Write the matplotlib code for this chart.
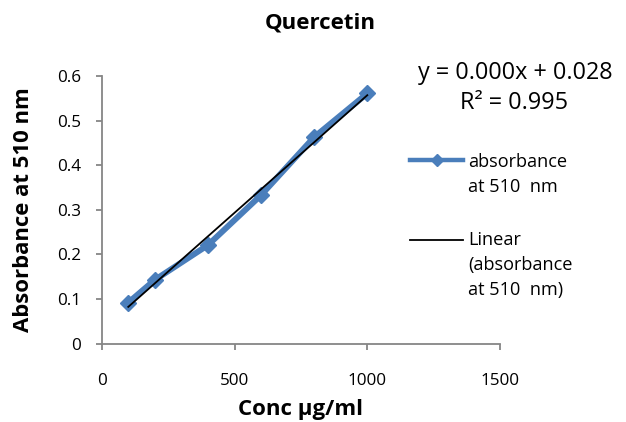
import matplotlib
matplotlib.use("Agg")
import matplotlib.pyplot as plt
import numpy as np
from matplotlib.lines import Line2D

plt.rcParams["font.family"] = ["Open Sans", "DejaVu Sans"]

# data
conc = [100, 200, 400, 600, 800, 1000]
absorbance = [0.092, 0.143, 0.221, 0.333, 0.463, 0.561]
x_ticks = [0, 500, 1000, 1500]
y_ticks = [0, 0.1, 0.2, 0.3, 0.4, 0.5, 0.6]
equation = "y = 0.000x + 0.028"
r_squared = "R² = 0.995"

BLUE = "#4A7EBB"
AXIS = "#868686"
W, H = 626, 422


def fx(px):
    return px / W


def fy(py):
    return 1 - py / H


fig = plt.figure(figsize=(W / 100, H / 100), dpi=100)
ax = fig.add_axes([fx(101.7), fy(343.7), (500.1 - 101.7) / W, (343.7 - 76) / H])

ax.plot(conc, absorbance, color=BLUE, lw=4.3, marker="D", markersize=8.5,
        solid_joinstyle="round", zorder=2)

slope, intercept = np.polyfit(conc, absorbance, 1)
fit_x = np.array([min(conc), max(conc)])
ax.plot(fit_x, slope * fit_x + intercept, color="black", lw=1.3, zorder=3)

ax.set_xlim(0, 1500)
ax.set_ylim(0, 0.6)
ax.set_xticks(x_ticks)
ax.set_yticks(y_ticks)
ax.set_yticklabels(["0"] + [f"{v:.1f}" for v in y_ticks[1:]])
for s in ("top", "right"):
    ax.spines[s].set_visible(False)
for s in ("left", "bottom"):
    ax.spines[s].set_color(AXIS)
    ax.spines[s].set_linewidth(1.3)
ax.tick_params(axis="both", colors=AXIS, length=4.3, width=1.3, labelsize=12.3,
               labelcolor="black")
ax.tick_params(axis="x", pad=16.5)
ax.tick_params(axis="y", pad=10.5)

fig.text(fx(301), fy(410), "Conc µg/ml", ha="center", va="center",
         fontsize=16, fontweight="bold")
fig.text(fx(24), fy(210), "Absorbance at 510 nm", ha="center", va="center",
         rotation=90, fontsize=15.9, fontweight="bold")
fig.text(fx(320), fy(23), "Quercetin", ha="center", va="center", fontsize=16,
         fontweight="bold")

# trendline label
fig.text(fx(515), fy(73), equation, ha="center", va="center", fontsize=16.8)
fig.text(fx(514), fy(103), r_squared, ha="center", va="center", fontsize=16.8)

# legend drawn by hand so the key sits beside the first line of text
fig.add_artist(Line2D([fx(410), fx(463)], [fy(160)] * 2, color=BLUE, lw=3.2,
                      transform=fig.transFigure))
fig.add_artist(Line2D([fx(436.5)], [fy(160)], color=BLUE, marker="D",
                      markersize=6.5, transform=fig.transFigure))
fig.add_artist(Line2D([fx(410), fx(463)], [fy(240)] * 2, color="black", lw=1.3,
                      transform=fig.transFigure))
legend_lines = [("absorbance", 162), ("at 510  nm", 187), ("Linear", 240),
                ("(absorbance", 265), ("at 510  nm)", 290)]
for txt, py in legend_lines:
    fig.text(fx(468), fy(py), txt, ha="left", va="center", fontsize=13.1)

fig.savefig("out.png", dpi=100)
